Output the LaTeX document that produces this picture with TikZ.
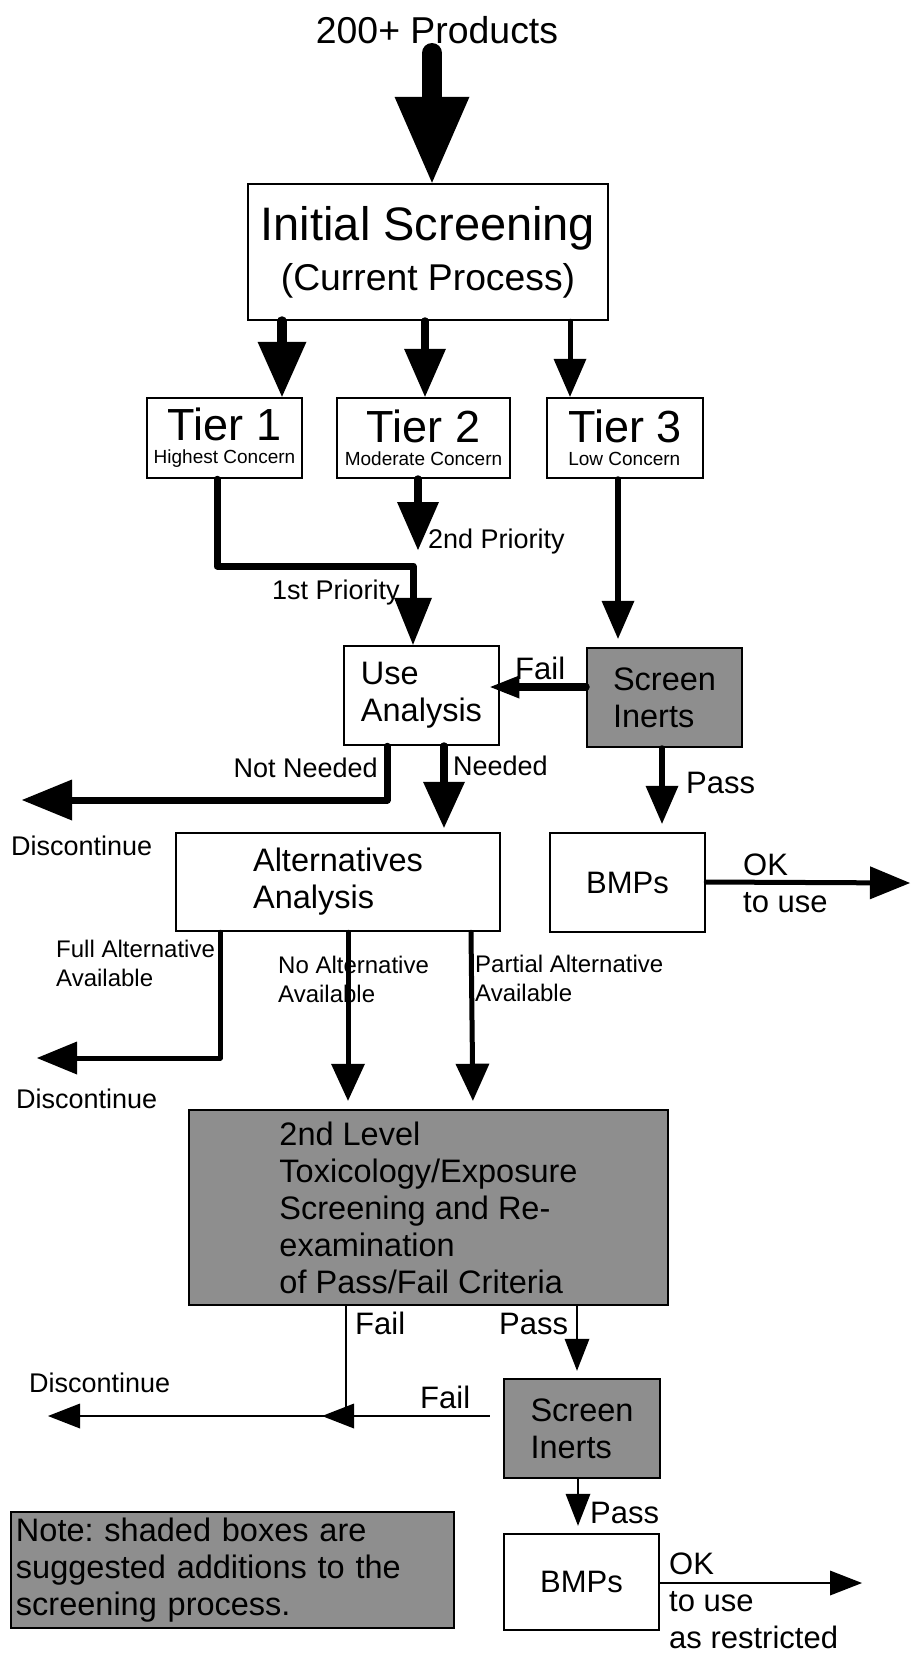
\documentclass[tikz,border=0pt]{standalone}
\usepackage{fontspec}
\setmainfont{Liberation Sans}
\usetikzlibrary{arrows.meta}
\definecolor{shade}{RGB}{142,142,142}
\frenchspacing

\begin{document}
\begin{tikzpicture}[x=1pt, y=-1pt,
    box/.style={draw, line width=2.5pt, inner sep=0pt, align=center,
                font=\fontsize{32.5}{37}\selectfont},
    shaded/.style={box, fill=shade},
    tier/.style={minimum height=80pt, font=\fontsize{19}{23}\selectfont},
    lbl/.style={inner sep=0pt, font=\fontsize{27}{32}\selectfont},
    cue/.style={inner sep=0pt, align=left, font=\fontsize{31}{37}\selectfont},
    sublbl/.style={inner sep=0pt, align=left, font=\fontsize{24}{29}\selectfont},
    flow/.style n args={3}{line width=#1pt, line cap=round, line join=round,
                -{Triangle[width=#2pt, length=#3pt, line width=0pt]}},
    wire/.style={line width=2pt, -{Triangle[width=25pt, length=32pt, line width=0pt]}}
  ]
  \useasboundingbox (0,0) rectangle (915,1658);

  % Top: products and first screening
  \node[lbl, font=\fontsize{37.4}{44}\selectfont, anchor=base] (title) at (437,43) {200+ Products};
  \node[box, minimum width=360pt, minimum height=136pt, font=\fontsize{37.3}{50}\selectfont]
       (init) at (428,252) {{\fontsize{47}{50}\selectfont Initial Screening}\\(Current Process)};

  % Tiers
  \node[box, tier, minimum width=155pt] (t1) at (224.5,438) {{\fontsize{45}{45}\selectfont Tier 1}\\Highest Concern};
  \node[box, tier, minimum width=173pt] (t2) at (423.5,438) {{\fontsize{45}{45}\selectfont Tier 2}\\Moderate Concern};
  \node[box, tier, minimum width=156pt, align=left] (t3) at (625,438) {{\fontsize{45}{45}\selectfont Tier 3}\\Low Concern};

  % Middle boxes
  \node[box, minimum width=155pt, minimum height=99pt, align=left] (ua) at (421.5,695.5) {Use\\Analysis};
  \node[shaded, minimum width=155pt, minimum height=99pt, align=left] (si1) at (664.5,697.5) {Screen\\Inerts};
  \node[box, minimum width=155pt, minimum height=99pt, font=\fontsize{31}{37}\selectfont] (bmp1) at (627.5,882.5) {BMPs};
  \node[box, minimum width=324pt, minimum height=98pt, align=left] (alt) at (338,882) {Alternatives\\Analysis};

  % Lower boxes
  \node[shaded, minimum width=479pt, minimum height=195pt, align=left] (lvl2) at (428.5,1207.5)
       {2nd Level\\Toxicology/Exposure\\Screening and Re-\\examination\\of Pass/Fail Criteria};
  \node[shaded, minimum width=156pt, minimum height=99pt, align=left] (si2) at (582,1428.5) {Screen\\Inerts};
  \node[box, minimum width=155pt, minimum height=96pt, font=\fontsize{31}{37}\selectfont] (bmp2) at (581.5,1582) {BMPs};
  \node[shaded, minimum width=443pt, minimum height=116pt, align=left, text width=433pt] (note) at (232.5,1570)
       {Note: shaded boxes are\\suggested additions to the\\screening process.};

  % Free ends
  \coordinate (tee) at (418,550);
  \coordinate (disc1) at (22,800);
  \coordinate (ok1) at (910,883);
  \coordinate (disc2) at (37,1058);
  \coordinate (jn) at (346,1416);
  \coordinate (disc3) at (48,1416);
  \coordinate (ok2) at (862,1583);

  % Arrows, top part
  \draw[flow={20}{75}{86}] ([yshift=-10pt]title.base -| 432,0) -- (init.north -| 432,0);
  \draw[flow={10}{49}{55}] (init.south -| 282,0) -- (t1.north -| 282,0);
  \draw[flow={8}{42}{48}] (init.south -| 425,0) -- (t2.north -| 425,0);
  \draw[flow={5}{33}{38}] (init.south -| 570,0) -- (t3.north -| 570,0);

  % Priorities
  \draw[flow={8}{42}{48}] (t2.south -| tee) -- (tee);
  \draw[flow={7}{38}{47}] (t1.south -| 217,0) |- (413,566) -- (ua.north -| 413,0);
  \node[lbl, anchor=base west] (p2) at (428,548) {2nd Priority};
  \node[lbl, anchor=base west] (p1) at (272,599) {1st Priority};
  \draw[flow={6}{33}{38}, shorten >=8pt] (t3.south -| 618,0) -- (si1.north -| 618,0);

  % Use analysis and inerts
  \draw[flow={8}{23}{29}, shorten >=-10pt] (si1.west |- 0,687) -- (ua.east |- 0,687);
  \node[cue, anchor=base west] (f1) at (515,679) {Fail};
  \draw[flow={7}{41}{50}] (ua.south -| 387,0) |- (disc1);
  \node[lbl, anchor=base east] (nn) at (378,777) {Not Needed};
  \node[lbl, anchor=base west] (d1) at (11,855) {Discontinue};
  \draw[flow={8}{42}{46}, shorten >=4pt] (ua.south -| 444,0) -- (alt.north -| 444,0);
  \node[lbl, anchor=base west] (nd) at (453,775) {Needed};
  \draw[flow={6}{33}{38}, shorten >=8pt] (si1.south -| 662,0) -- (bmp1.north -| 662,0);
  \node[cue, anchor=base west] (ps1) at (686,793) {Pass};
  \draw[flow={5}{33}{40}] (bmp1.east |- 0,882) -- (ok1);
  \node[cue, anchor=west] (ok1t) at (743,883) {OK\\to use};

  % Alternatives
  \node[sublbl, anchor=west] (fa) at (56,963) {Full Alternative\\Available};
  \node[sublbl, anchor=west] (na) at (278,979) {No Alternative\\Available};
  \node[sublbl, anchor=west] (pa) at (475,978) {Partial Alternative\\Available};
  \draw[flow={5}{33}{40}] (alt.south -| 220,0) |- (disc2);
  \node[lbl, anchor=base west] (d2) at (16,1108) {Discontinue};
  \draw[flow={5}{34}{37}, shorten >=8pt] (alt.south -| 348,0) -- (lvl2.north -| 348,0);
  \draw[flow={5}{34}{37}, shorten >=8pt] (alt.south -| 471,0) -- (lvl2.north -| 473,0);

  % Second level outcomes
  \draw[wire] (lvl2.south -| jn) -- (jn) -- (disc3);
  \draw[wire] ([xshift=-13pt]si2.west |- jn) -- ([xshift=-24pt]jn);
  \node[cue, anchor=base west] (f2) at (355,1334) {Fail};
  \node[cue, anchor=base west] (f3) at (420,1408) {Fail};
  \node[lbl, anchor=base west] (d3) at (29,1392) {Discontinue};
  \draw[wire, shorten >=7pt] (lvl2.south -| 577,0) -- (si2.north -| 577,0);
  \node[cue, anchor=base west] (ps2) at (499,1334) {Pass};
  \draw[wire, shorten >=7pt] (si2.south -| 578,0) -- (bmp2.north -| 578,0);
  \node[cue, anchor=base west] (ps3) at (590,1523) {Pass};
  \draw[wire] (bmp2.east |- ok2) -- (ok2);
  \node[cue, anchor=west] (ok2t) at (669,1601) {OK\\to use\\as restricted};
\end{tikzpicture}
\end{document}
